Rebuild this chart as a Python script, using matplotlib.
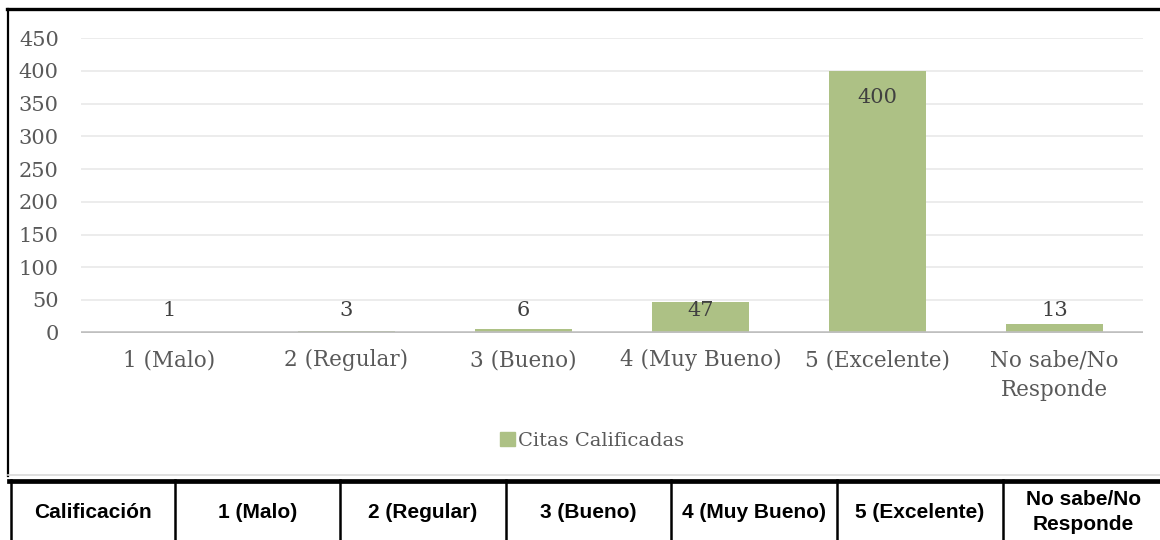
import matplotlib
matplotlib.use('Agg')
import matplotlib.pyplot as plt
from matplotlib.lines import Line2D
from matplotlib.patches import Patch

categories = ['1 (Malo)', '2 (Regular)', '3 (Bueno)', '4 (Muy Bueno)', '5 (Excelente)', 'No sabe/No\nResponde']
values = [1, 3, 6, 47, 400, 13]
yticks = [0, 50, 100, 150, 200, 250, 300, 350, 400, 450]
series_name = 'Citas Calificadas'
table_head = 'Calificación'

W, H = 1160, 540
bar_color = '#adc185'
txt_gray = '#595959'
serif = ['DejaVu Serif']

fig = plt.figure(figsize=(W / 100, H / 100), dpi=100)

# plot area in pixel coords of the reference
x0, x1 = 81, 1143
y_zero, y_top = 332.6, 38.3
ax = fig.add_axes([x0 / W, 1 - y_zero / H, (x1 - x0) / W, (y_zero - y_top) / H])

xs = list(range(len(categories)))
ax.bar(xs, values, width=0.55, color=bar_color, zorder=3)
ax.set_xlim(-0.5, len(categories) - 0.5)
ax.set_ylim(0, 450)
ax.set_yticks(yticks)
ax.set_yticklabels([str(t) for t in yticks], family=serif, fontsize=15, color=txt_gray)
ax.set_xticks(xs)
ax.set_xticklabels(categories, family=serif, fontsize=15.5, color=txt_gray, linespacing=1.45)
ax.tick_params(axis='both', length=0)
ax.tick_params(axis='x', pad=12)
ax.tick_params(axis='y', pad=16)
for s in ax.spines.values():
    s.set_visible(False)
ax.grid(axis='y', color='#ececec', lw=1.4, zorder=0)
ax.axhline(0, color='#bfbfbf', lw=2.6, zorder=4)

# data labels: inside end for tall bars, floating above for short ones
for x, v in zip(xs, values):
    ly = max(34, v - 40)
    ax.text(x, ly, str(v), ha='center', va='center', family=serif, fontsize=15,
            color='#404040', zorder=5)

fig.legend(handles=[Patch(color=bar_color, label=series_name)], loc='center',
           bbox_to_anchor=(592 / W, 1 - 441 / H), frameon=False,
           prop={'family': serif, 'size': 14}, labelcolor=txt_gray,
           handlelength=0.75, handleheight=0.75, handletextpad=0.15)

def fx(px):
    return px / W

def fy(py):
    return 1 - py / H

# chart frame
fig.add_artist(Line2D([fx(7), fx(W)], [fy(9), fy(9)], color='black', lw=2.4))
fig.add_artist(Line2D([fx(8), fx(8)], [fy(9), fy(476)], color='black', lw=1.6))
fig.add_artist(Line2D([fx(8), fx(W)], [fy(475), fy(475)], color='#d9d9d9', lw=1.2))

# table under the chart
fig.add_artist(Line2D([fx(9), fx(W)], [fy(480.5), fy(480.5)], color='black', lw=3.4))
bounds = [11, 175, 340, 506, 671, 837, 1003]
for b in bounds:
    fig.add_artist(Line2D([fx(b), fx(b)], [fy(480), fy(H)], color='black', lw=1.8))
cells = [table_head] + categories
rights = bounds[1:] + [W + 4]
for left, right, t in zip(bounds, rights, cells):
    fig.text(fx((left + right) / 2), fy(512), t, ha='center', va='center',
             family='Liberation Sans', fontweight='bold', fontsize=15,
             color='black', linespacing=1.4)

fig.savefig('out.png', dpi=100)
